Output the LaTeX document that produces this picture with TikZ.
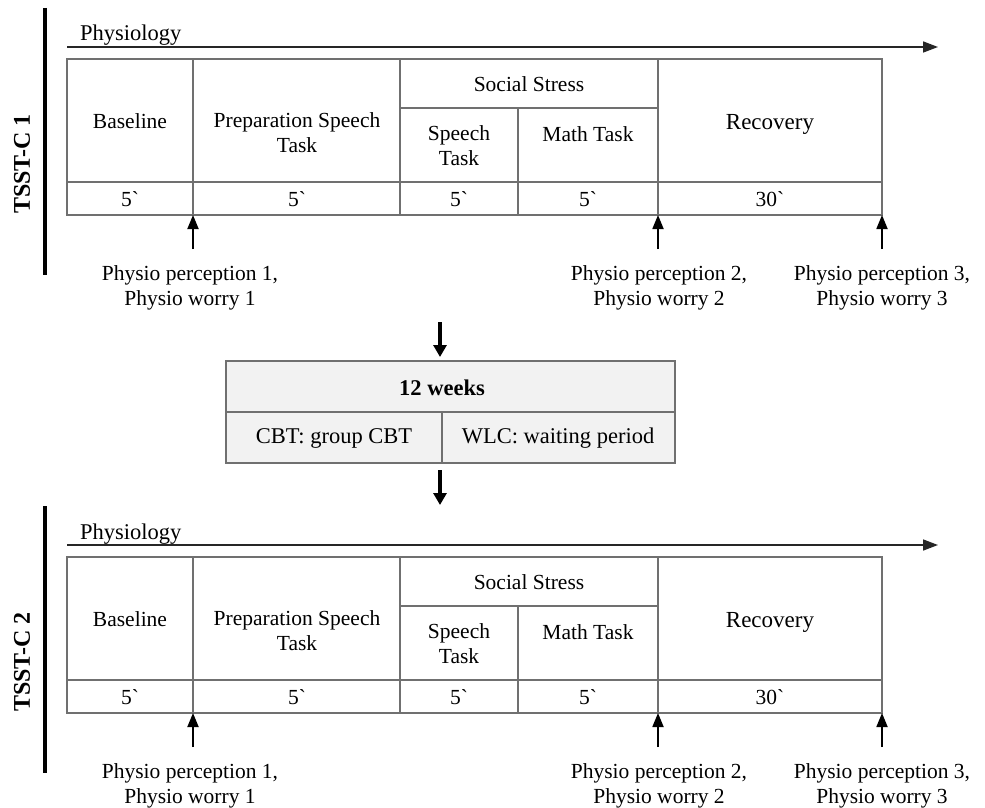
\documentclass[tikz,border=0pt]{standalone}
\usepackage{fontspec}
\setmainfont{Liberation Serif}
\newfontfamily\gravefont{Liberation Serif}[Ligatures=TeXOff]
\usetikzlibrary{arrows.meta}
\definecolor{tgray}{HTML}{707070}
\definecolor{bfill}{HTML}{F2F2F2}
\newcommand\bqmark{{\gravefont\symbol{96}}}
\newcommand\cellat[6][]{\node[cellbox,#1,minimum width={(#4-#2)*1pt},minimum height={(#6-#3)*1pt}] (#5) at ({(#2+#4)/2},{(#3+#6)/2}) {};}
\newcommand\tsstblock[2]{%
  % Physiology time axis
  \coordinate (ps#1) at (67,47);
  \coordinate (pe#1) at (938,47);
  \draw[physarr] (ps#1) -- (pe#1);
  \node[ttext,font=\fontsize{22.5}{26}\selectfont,anchor=base west] (phys#1) at (80,41) {Physiology};
  % side bar and label
  \coordinate (bt#1) at (45,8);
  \coordinate (bb#1) at (45,275);
  \draw[sidebar] (bt#1) -- (bb#1);
  \node[font=\bfseries\fontsize{24}{28}\selectfont,rotate=90,inner sep=0pt] (lab#1) at (22,164) {#2};
  % table cells
  \cellat{67}{59}{193}{base#1}{182}
  \cellat{193}{59}{400}{prep#1}{182}
  \cellat{400}{59}{658}{soc#1}{108}
  \cellat{400}{108}{518}{spe#1}{182}
  \cellat{518}{108}{658}{mat#1}{182}
  \cellat{658}{59}{882}{rec#1}{182}
  \cellat{67}{182}{193}{ta#1}{215}
  \cellat{193}{182}{400}{tb#1}{215}
  \cellat{400}{182}{518}{tc#1}{215}
  \cellat{518}{182}{658}{td#1}{215}
  \cellat{658}{182}{882}{te#1}{215}
  % cell texts
  \node[ttext] (xbase#1) at (130,121) {Baseline};
  \node[ttext] (xprep#1) at (297,133) {Preparation Speech\\Task};
  \node[ttext] (xsoc#1) at (529,84) {Social Stress};
  \node[ttext] (xspe#1) at (459,146) {Speech\\Task};
  \node[ttext] (xmat#1) at (588,134) {Math Task};
  \node[ttext,font=\fontsize{23}{27}\selectfont] (xrec#1) at (770,124) {Recovery};
  \node[ttext] (xta#1) at (130,199) {5\bqmark};
  \node[ttext] (xtb#1) at (297,199) {5\bqmark};
  \node[ttext] (xtc#1) at (459,199) {5\bqmark};
  \node[ttext] (xtd#1) at (588,199) {5\bqmark};
  \node[ttext] (xte#1) at (770,199) {30\bqmark};
  % measurement points
  \coordinate (ua#1) at (193,249);
  \coordinate (ub#1) at (658,249);
  \coordinate (uc#1) at (882,249);
  \draw[uparr] (ua#1) -- (ta#1.south east);
  \draw[uparr] (ub#1) -- (te#1.south west);
  \draw[uparr] (uc#1) -- (te#1.south east);
  \node[ttext] (ma#1) at (190,288) {Physio perception 1,\\Physio worry 1};
  \node[ttext] (mb#1) at (659,288) {Physio perception 2,\\Physio worry 2};
  \node[ttext] (mc#1) at (882,288) {Physio perception 3,\\Physio worry 3};
}
\begin{document}
\begin{tikzpicture}[x=1pt,y=-1pt,
  cellbox/.style={draw=tgray,line width=1.8pt,inner sep=0pt,outer sep=0pt},
  ttext/.style={font=\fontsize{21.5}{25}\selectfont,align=center,inner sep=0pt},
  boxtext/.style={font=\fontsize{22.5}{26}\selectfont,align=center,inner sep=0pt},
  uparr/.style={-{Triangle[width=11pt,length=14pt]},line width=1.8pt},
  downarr/.style={-{Triangle[width=13pt,length=12pt]},line width=3.5pt},
  physarr/.style={-{Triangle[width=11pt,length=15pt]},line width=1.6pt,draw=black!85},
  sidebar/.style={line width=4pt,draw=black}]
\useasboundingbox (0,0) rectangle (985,808);
\fill[white] (0,0) rectangle (985,808);
\begin{scope}
  \tsstblock{A}{TSST-C 1}
\end{scope}
\begin{scope}[yshift=-498pt]
  \tsstblock{B}{TSST-C 2}
\end{scope}
% 12 weeks box
\cellat[fill=bfill]{226}{361}{675}{wk}{412}
\cellat[fill=bfill]{226}{412}{442}{cbt}{463}
\cellat[fill=bfill]{442}{412}{675}{wlc}{463}
\node[boxtext,font=\bfseries\fontsize{22.5}{26}\selectfont] (xwk) at (442,388) {12 weeks};
\node[boxtext] (xcbt) at (334,438) {CBT: group CBT};
\node[boxtext] (xwlc) at (558,438) {WLC: waiting period};
\coordinate (da) at (440,322);
\coordinate (db) at (440,470);
\coordinate (dbe) at (440,505);
\draw[downarr,shorten >=4pt] (da) -- (da |- wk.north);
\draw[downarr] (db) -- (dbe);
\end{tikzpicture}
\end{document}
